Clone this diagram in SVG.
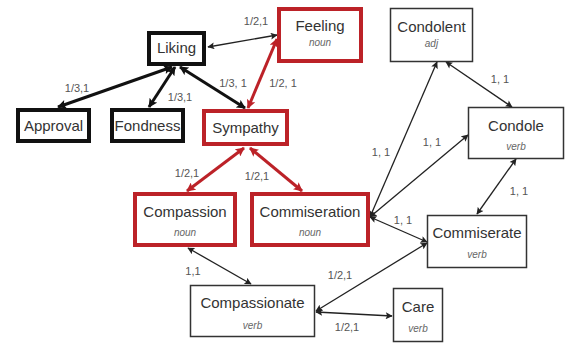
<svg xmlns="http://www.w3.org/2000/svg" width="566" height="347" viewBox="0 0 566 347">
<style>
.bg{fill:#ffffff}
.nb{fill:#fff;stroke:#111;stroke-width:4}
.nr{fill:#fff;stroke:#bc2228;stroke-width:4}
.nt{fill:#fff;stroke:#333;stroke-width:1.5}
.t{font-family:"Liberation Sans",Arial,sans-serif;font-size:15px;fill:#333;text-anchor:middle}
.s{font-family:"Liberation Sans",Arial,sans-serif;font-size:10px;font-style:italic;fill:#666;text-anchor:middle}
.l{font-family:"Liberation Sans",Arial,sans-serif;font-size:11px;fill:#555;text-anchor:middle}
.et{fill:none;stroke:#222;stroke-width:1.3;marker-start:url(#at);marker-end:url(#at)}
.eb{fill:none;stroke:#111;stroke-width:3;marker-start:url(#ab);marker-end:url(#ab)}
.er{fill:none;stroke:#bc2228;stroke-width:3;marker-start:url(#ar);marker-end:url(#ar)}
</style>
<defs>
<marker id="at" markerUnits="userSpaceOnUse" viewBox="0 0 10 10" refX="9" refY="5" markerWidth="8" markerHeight="7" orient="auto-start-reverse"><path d="M0,0 L10,5 L0,10 L2,5 Z" fill="#222"/></marker>
<marker id="ab" markerUnits="userSpaceOnUse" viewBox="0 0 10 10" refX="9" refY="5" markerWidth="10" markerHeight="9" orient="auto-start-reverse"><path d="M0,0 L10,5 L0,10 L2,5 Z" fill="#111"/></marker>
<marker id="ar" markerUnits="userSpaceOnUse" viewBox="0 0 10 10" refX="9" refY="5" markerWidth="10" markerHeight="9" orient="auto-start-reverse"><path d="M0,0 L10,5 L0,10 L2,5 Z" fill="#bc2228"/></marker>
</defs>
<rect class="bg" x="0" y="0" width="566" height="347"/>
<g id="connectors">
<line class="et" x1="208" y1="47" x2="277" y2="35"/>
<line class="eb" x1="172" y1="67" x2="58" y2="107"/>
<line class="eb" x1="175" y1="67" x2="149" y2="107"/>
<line class="eb" x1="180" y1="67" x2="245" y2="108"/>
<line class="er" x1="277" y1="39" x2="248" y2="108"/>
<line class="er" x1="244" y1="148" x2="187" y2="191"/>
<line class="er" x1="250" y1="148" x2="302" y2="191"/>
<line class="et" x1="188" y1="248" x2="251" y2="284"/>
<line class="et" x1="370" y1="217" x2="437" y2="62"/>
<line class="et" x1="370" y1="217" x2="468" y2="135"/>
<line class="et" x1="370" y1="217" x2="427" y2="242"/>
<line class="et" x1="446" y1="62" x2="512" y2="107"/>
<line class="et" x1="516" y1="159" x2="477" y2="214"/>
<line class="et" x1="427" y1="243" x2="316" y2="311"/>
<line class="et" x1="316" y1="312" x2="392" y2="316"/>
</g>
<g id="edge-labels">
<text class="l" x="256" y="25">1/2,1</text>
<text class="l" x="77" y="92">1/3,1</text>
<text class="l" x="180" y="101">1/3,1</text>
<text class="l" x="233" y="87">1/3, 1</text>
<text class="l" x="283" y="87">1/2, 1</text>
<text class="l" x="187" y="177">1/2,1</text>
<text class="l" x="257" y="180">1/2,1</text>
<text class="l" x="193" y="275">1,1</text>
<text class="l" x="381" y="156">1, 1</text>
<text class="l" x="432" y="146">1, 1</text>
<text class="l" x="403" y="224">1, 1</text>
<text class="l" x="500" y="83">1, 1</text>
<text class="l" x="519" y="195">1, 1</text>
<text class="l" x="340" y="279">1/2,1</text>
<text class="l" x="347" y="331">1/2,1</text>
</g>
<g id="liking"><rect class="nb" x="149" y="33" width="55" height="31"/><text class="t" x="176.5" y="53">Liking</text></g>
<g id="feeling"><rect class="nr" x="279" y="9" width="82" height="52"/><text class="t" x="320" y="31">Feeling</text><text class="s" x="320" y="46">noun</text></g>
<g id="approval"><rect class="nb" x="18" y="110" width="71" height="31"/><text class="t" x="53.5" y="131">Approval</text></g>
<g id="fondness"><rect class="nb" x="112" y="110" width="71" height="31"/><text class="t" x="147.5" y="131">Fondness</text></g>
<g id="sympathy"><rect class="nr" x="204" y="111" width="83" height="33"/><text class="t" x="245.5" y="133">Sympathy</text></g>
<g id="compassion"><rect class="nr" x="135" y="194" width="100" height="51"/><text class="t" x="185" y="217">Compassion</text><text class="s" x="185" y="236">noun</text></g>
<g id="commiseration"><rect class="nr" x="252" y="194" width="116" height="51"/><text class="t" x="310" y="217">Commiseration</text><text class="s" x="310" y="236">noun</text></g>
<g id="condolent"><rect class="nt" x="390.5" y="8.5" width="82" height="53"/><text class="t" x="431.5" y="32">Condolent</text><text class="s" x="431.5" y="47">adj</text></g>
<g id="condole"><rect class="nt" x="468.5" y="107.5" width="95" height="51"/><text class="t" x="516" y="131">Condole</text><text class="s" x="516" y="150">verb</text></g>
<g id="commiserate"><rect class="nt" x="427.5" y="215.5" width="99" height="52"/><text class="t" x="477" y="238">Commiserate</text><text class="s" x="477" y="258">verb</text></g>
<g id="compassionate"><rect class="nt" x="190.5" y="285.5" width="124" height="51"/><text class="t" x="252.5" y="308">Compassionate</text><text class="s" x="252.5" y="329">verb</text></g>
<g id="care"><rect class="nt" x="393.5" y="288.5" width="49" height="53"/><text class="t" x="418" y="312">Care</text><text class="s" x="418" y="332">verb</text></g>
</svg>
